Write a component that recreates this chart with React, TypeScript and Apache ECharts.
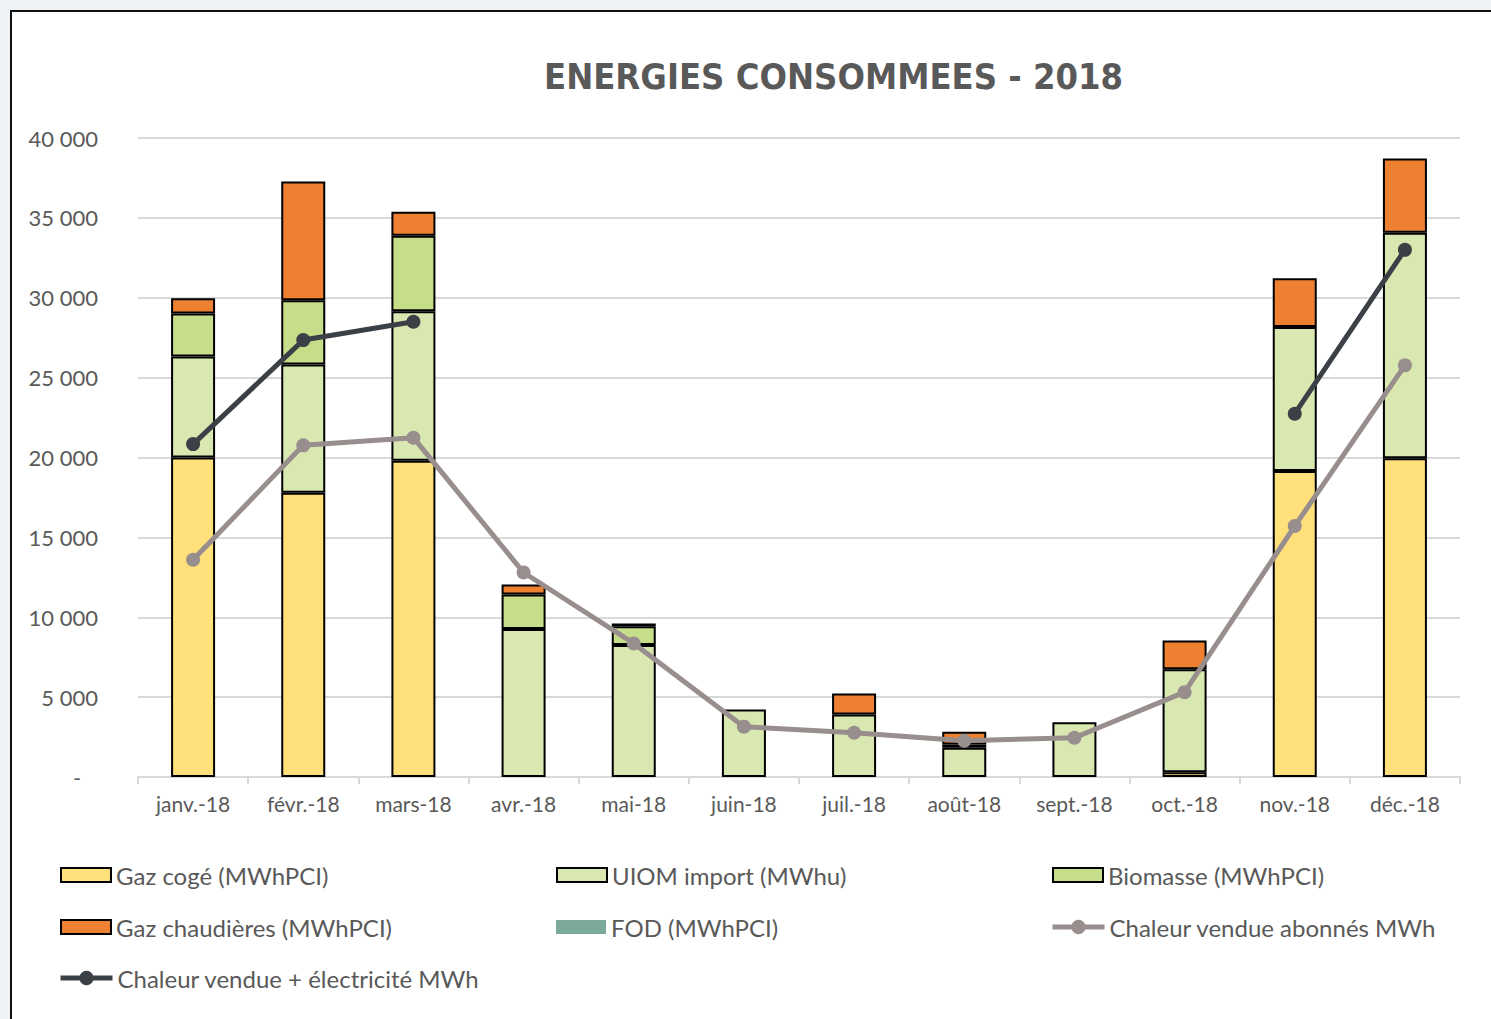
import React, { useEffect, useRef } from "react";
import * as echarts from "echarts";

const months = ["janv.-18", "févr.-18", "mars-18", "avr.-18", "mai-18", "juin-18", "juil.-18", "août-18", "sept.-18", "oct.-18", "nov.-18", "déc.-18"];

const gazCoge = [20000, 17800, 19800, null, null, null, null, null, null, 300, 19150, 19950];
const uiomImport = [6330, 8020, 9360, 9260, 8260, 4220, 3920, 1830, 3420, 6450, 9020, 14120];
const biomasse = [2680, 4020, 4720, 2170, 1180, null, null, 210, null, null, null, null];
const gazChaudieres = [960, 7430, 1500, 620, 170, null, 1310, 790, null, 1800, 3050, 4650];
const fod = [0, 0, 0, 0, 0, 0, 0, 0, 0, 0, 0, 0];
const chaleurAbonnes = [13600, 20760, 21240, 12800, 8360, 3150, 2770, 2270, 2460, 5310, 15710, 25770];
const chaleurElec = [20840, 27350, 28500, null, null, null, null, null, null, null, 22740, 33000];

const yTicks = { min: 0, max: 40000, interval: 5000 };

const FONT = "Lato, 'Open Sans', sans-serif";
const TXT = "#595959";

export default function App() {
  const ref = useRef<HTMLDivElement>(null);

  useEffect(() => {
    if (!ref.current) return;
    const chart = echarts.init(ref.current, null, { renderer: "svg" });
    const barBase = (name: string, data: any[], color: string, border = true) => ({
      name,
      type: "bar",
      stack: "total",
      data,
      barWidth: 44,
      itemStyle: { color, borderColor: border ? "#000" : color, borderWidth: border ? 2 : 0 },
    });
    const legendText = { color: TXT, fontFamily: FONT, fontSize: 24, lineHeight: 26 };
    const rowTop = [857, 909, 960];
    const colLeft = [55, 551, 1047];
    const rectLegend = (name: string, col: number, row: number) => ({
      left: colLeft[col],
      top: rowTop[row],
      itemWidth: 50,
      itemHeight: 14,
      textStyle: legendText,
      selectedMode: false,
      data: [{ name, icon: "rect" }],
    });
    const lineLegend = (name: string, col: number, row: number) => ({
      left: colLeft[col] - 2,
      top: rowTop[row],
      itemWidth: 52,
      itemHeight: 18,
      textStyle: legendText,
      selectedMode: false,
      lineStyle: { width: 5 },
      data: [{ name }],
    });
    chart.setOption({
      animation: false,
      title: {
        text: "ENERGIES CONSOMMEES - 2018",
        left: 539,
        top: 53,
        textStyle: { color: TXT, fontFamily: "'Liberation Sans Narrow', 'DejaVu Sans Condensed', 'Liberation Sans', sans-serif", fontWeight: "bold", fontSize: 36 },
      },
      grid: { left: 138, right: 31, top: 138, bottom: 242 },
      legend: [
        rectLegend("Gaz cogé (MWhPCI)", 0, 0),
        rectLegend("UIOM import (MWhu)", 1, 0),
        rectLegend("Biomasse (MWhPCI)", 2, 0),
        rectLegend("Gaz chaudières (MWhPCI)", 0, 1),
        rectLegend("FOD (MWhPCI)", 1, 1),
        lineLegend("Chaleur vendue abonnés MWh", 2, 1),
        lineLegend("Chaleur vendue + électricité MWh", 0, 2),
      ],
      xAxis: {
        type: "category",
        data: months,
        boundaryGap: true,
        axisLine: { lineStyle: { color: "#d9d9d9", width: 2 } },
        axisTick: { show: true, length: 7, lineStyle: { color: "#d9d9d9", width: 2 } },
        axisLabel: { color: TXT, fontFamily: FONT, fontSize: 21, margin: 16 },
      },
      yAxis: {
        type: "value",
        ...yTicks,
        axisLine: { show: false },
        axisTick: { show: false },
        splitLine: { lineStyle: { color: "#d9d9d9", width: 2 } },
        axisLabel: {
          color: TXT,
          fontFamily: FONT,
          fontSize: 22,
          margin: 40,
          formatter: (v: number) => (v === 0 ? "-   " : String(v).replace(/\B(?=(\d{3})+(?!\d))/g, " ")),
        },
      },
      series: [
        barBase("Gaz cogé (MWhPCI)", gazCoge, "#FFE07B"),
        barBase("UIOM import (MWhu)", uiomImport, "#D9E8B0"),
        barBase("Biomasse (MWhPCI)", biomasse, "#C6DD8A"),
        barBase("Gaz chaudières (MWhPCI)", gazChaudieres, "#EE8031"),
        barBase("FOD (MWhPCI)", fod, "#7BA99B", false),
        {
          name: "Chaleur vendue abonnés MWh",
          type: "line",
          data: chaleurAbonnes,
          symbol: "circle",
          symbolSize: 14,
          lineStyle: { color: "#988E8D", width: 5 },
          itemStyle: { color: "#988E8D" },
        },
        {
          name: "Chaleur vendue + électricité MWh",
          type: "line",
          data: chaleurElec,
          connectNulls: false,
          symbol: "circle",
          symbolSize: 14,
          lineStyle: { color: "#3B4046", width: 5 },
          itemStyle: { color: "#3B4046" },
        },
      ],
    });
    return () => chart.dispose();
  }, []);

  return (
    <div style={{ position: "absolute", left: 0, top: 0, width: 1491, height: 1019, overflow: "hidden", background: "#eef3f7" }}>
      <div
        style={{
          position: "absolute",
          left: 10,
          top: 10,
          width: 1500,
          height: 1030,
          background: "#fff",
          borderLeft: "2px solid #111",
          borderTop: "2px solid #111",
        }}
      />
      <div ref={ref} style={{ position: "absolute", left: 0, top: 0, width: 1491, height: 1019 }} />
    </div>
  );
}
